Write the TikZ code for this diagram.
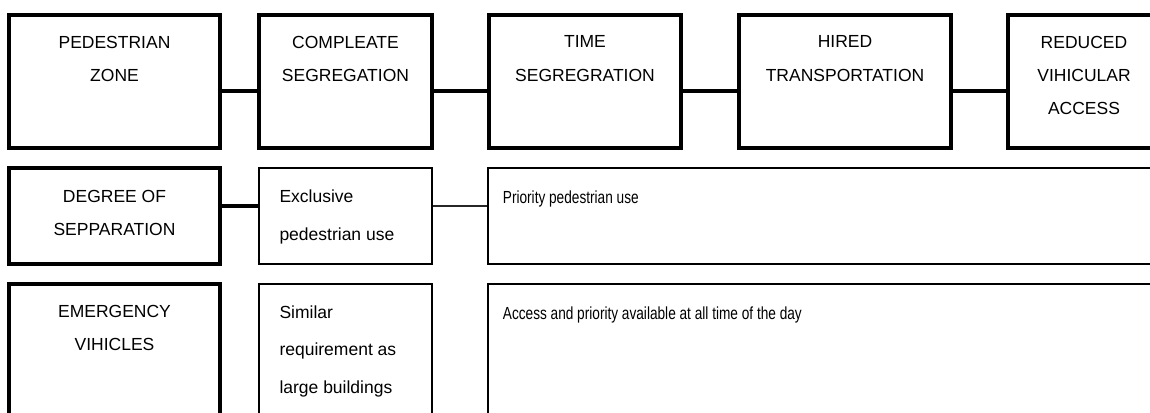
\documentclass[tikz,border=0pt]{standalone}
\usepackage{fontspec}
\setmainfont{Liberation Sans}
\tikzset{
  thickbox/.style={draw=black, line width=4pt, inner sep=0pt, fill=none},
  thinbox/.style={draw=black, line width=2pt, inner sep=0pt, fill=none},
  captxt/.style={anchor=north, inner sep=0pt, align=center, font=\fontsize{17.5}{33.3}\selectfont},
  plaintxt/.style={anchor=north west, inner sep=0pt, align=left, font=\fontsize{17.5}{37.5}\selectfont},
  thicklink/.style={draw=black, line width=4pt},
  thinlink/.style={draw=black!85, line width=1.5pt}
}
\begin{document}
\begin{tikzpicture}[x=1pt, y=-1pt]
\useasboundingbox (0,0) rectangle (1150,412);
\clip (0,0) rectangle (1150,412);
% top row
\node[thickbox, minimum width=211pt, minimum height=133pt] (b1) at (114.5,81.5) {};
\node[thickbox, minimum width=173pt, minimum height=133pt] (b2) at (345.5,81.5) {};
\node[thickbox, minimum width=192pt, minimum height=133pt] (b3) at (585,81.5) {};
\node[thickbox, minimum width=212pt, minimum height=133pt] (b4) at (845,81.5) {};
\node[thickbox, minimum width=152pt, minimum height=133pt] (b5) at (1084,81.5) {};
\node[captxt] (t1) at (114.5,35.6) {PEDESTRIAN\\ZONE};
\node[captxt] (t2) at (345.5,35.6) {COMPLEATE\\SEGREGATION};
\node[captxt] (t3) at (585,35.6) {TIME\\SEGREGRATION};
\node[captxt] (t4) at (845,35.6) {HIRED\\TRANSPORTATION};
\node[captxt] (t5) at (1084,35.6) {REDUCED\\VIHICULAR\\ACCESS};
\foreach \a/\b in {b1/b2,b2/b3,b3/b4,b4/b5}
  \draw[thicklink] ([yshift=-9.5pt]\a.east) -- ([yshift=-9.5pt]\b.west);
% second row
\node[thickbox, minimum width=211pt, minimum height=96pt] (d1) at (114.5,216) {};
\node[thinbox, minimum width=173pt, minimum height=96pt] (d2) at (345.5,216) {};
\node[thinbox, minimum width=682pt, minimum height=96pt] (d3) at (829,216) {};
\node[captxt] (u1) at (114.5,190) {DEGREE OF\\SEPPARATION};
\node[plaintxt] (u2) at (279.3,190) {Exclusive\\pedestrian use};
\node[plaintxt] (u3) at (502.7,190.6) {\scalebox{0.78}[1]{Priority pedestrian use}};
\draw[thicklink] ([yshift=10pt]d1.east) -- ([yshift=10pt]d2.west);
\draw[thinlink] ([yshift=10pt]d2.east) -- ([yshift=10pt]d2.east -| d3.west);
% third row
\node[thickbox, minimum width=211pt, minimum height=176pt] (e1) at (114.5,372) {};
\node[thinbox, minimum width=173pt, minimum height=176pt] (e2) at (345.5,372) {};
\node[thinbox, minimum width=682pt, minimum height=176pt] (e3) at (829,372) {};
\node[captxt] (v1) at (114.5,304.6) {EMERGENCY\\VIHICLES};
\node[plaintxt] (v2) at (279.3,305.6) {Similar\\requirement as\\large buildings};
\node[plaintxt] (v3) at (502.7,306.6) {\scalebox{0.78}[1]{Access and priority available at all time of the day}};
\end{tikzpicture}
\end{document}
